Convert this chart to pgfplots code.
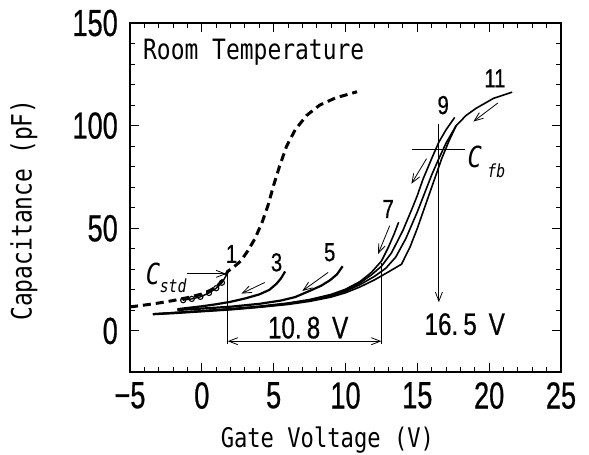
\documentclass[border=0pt]{standalone}
\usepackage{fontspec}
\setmainfont{DejaVu Sans Mono}[FakeStretch=0.82]
\newfontfamily\numfont{Liberation Sans}[FakeStretch=0.72, FakeBold=0.6]
\newfontfamily\lblfont{Liberation Sans}[FakeStretch=0.78, FakeBold=0.6]
\usepackage{pgfplots}
\pgfplotsset{compat=1.18}
\usetikzlibrary{arrows.meta}

\tikzset{
  ann/.style={black, line width=0.8pt},
  annarrow/.style={ann, -{Straight Barb[length=9pt,width=7pt]}},
  lbl/.style={font=\lblfont\fontsize{26}{26}\selectfont, inner sep=0pt},
}

\begin{document}
\begin{tikzpicture}
\useasboundingbox (-130pt,-83pt) rectangle (459pt,372pt);
\begin{axis}[
  scale only axis, width=431pt, height=349pt,
  xmin=-5, xmax=25, ymin=-20, ymax=150,
  xtick={-5,0,5,10,15,20,25},
  xticklabels={−5,0,5,10,15,20,25},
  ytick={0,50,100,150},
  yticklabels={0,50,100,150},
  minor x tick num=4, minor y tick num=4,
  tick align=inside,
  major tick length=9pt, minor tick length=5pt,
  axis line style={line width=2pt},
  every tick/.style={black, line width=1pt},
  ticklabel style={font=\numfont\fontsize{37.7}{38}\selectfont, inner sep=0pt},
  xticklabel style={yshift=-10pt},
  yticklabel style={xshift=-12pt},
  xlabel={Gate Voltage (V)},
  ylabel={Capacitance (pF)},
  xlabel style={font=\fontsize{27}{27}\selectfont, at={(rel axis cs:0.458,-0.195)}, anchor=center},
  ylabel style={font=\fontsize{28}{28}\selectfont, at={(rel axis cs:-0.246,0.464)}, anchor=center},
  clip=false,
]
% C_std (dashed)
\addplot[black, line width=3pt, dash pattern=on 8pt off 5pt] coordinates {
(-5,11.7) (-4,12.6) (-3,13.6) (-2,14.8) (-1,16.2) (0,18) (0.6,19.8) (1.1,22)
(1.5,25) (1.8,29) (2.2,31) (2.7,34) (3.2,39) (3.7,45) (4.2,53) (4.6,61)
(5.0,71) (5.4,80) (5.9,90) (6.5,98) (7.3,105) (8.2,110) (9.3,113.5) (10.8,116.5)};

% curve 1 (open circles on C_std)
\addplot[black, line width=1.4pt, mark=o, mark size=2.6pt, mark options={solid, line width=1.1pt}, mark indices={1,2,3,4,5,6}] coordinates {
(-1.3,15) (-0.7,15.6) (-0.1,16.6) (0.5,18.5) (1.0,20.8) (1.4,23.5) (1.7,27) (1.8,29)};

% curve 3
\addplot[black, line width=2.2pt] coordinates {
(-1.7,10.6) (-1,11.2) (0,12) (1,13) (2,14.2) (3,15.8) (4,17.8) (4.7,20)
(5.2,23) (5.5,25.5) (5.8,29)};

% curve 5
\addplot[black, line width=2.2pt] coordinates {
(-1.7,10.2) (0,10.9) (2,11.8) (4,13.2) (5.5,14.8) (6.5,16.5) (7.5,19.5)
(8.3,22) (8.9,24.6) (9.4,27.5) (9.8,31.5)};

% curve 7
\addplot[black, line width=1.6pt] coordinates {
(-3.4,8.3) (-2,8.9) (0,9.8) (2,10.8) (4,12) (6,13.6) (7.5,15.3) (9,17.8)
(10,20.3) (11,24) (11.8,28.5) (12.5,34) (13.0,41) (13.4,47.5) (13.7,53)};

% curve 9
\addplot[black, line width=1.6pt] coordinates {
(-3.4,8.3) (-2,8.9) (0,9.8) (2,10.7) (4,11.9) (6,13.4) (7.5,15) (9,17.4)
(10,19.8) (11,23.3) (11.8,27.3) (12.5,31.5) (13.2,38) (14,49) (14.6,59)
(15.0,66) (15.4,74) (16,84) (16.5,92) (17.0,98) (17.6,104)};

% curve 11
\addplot[black, line width=1.6pt] coordinates {
(-3.4,8.1) (-2,8.7) (0,9.6) (2,10.5) (4,11.7) (6,13.2) (7.5,14.8) (9,17)
(10,19.3) (11,22.5) (12,26.5) (12.8,30.5) (13.5,36) (14.2,45) (15,58)
(15.5,67) (16,76) (16.5,84) (17,91.5) (17.7,100) (18.4,105) (19.1,108.5)
(20.3,113.3) (21.6,116.3)};

% outer branch
\addplot[black, line width=1.6pt] coordinates {
(-3.4,8.0) (-2,8.5) (0,9.4) (2,10.3) (4,11.5) (6,12.9) (7.5,14.4) (9,16.5)
(10,18.6) (11,21.4) (12,24.8) (13,28.8) (13.9,32.5) (14.5,41) (15,50)
(15.5,60) (16.2,74) (16.7,84) (17.2,92.5) (17.7,100)};

% sweep arrows
\draw[annarrow] (axis cs:-1.0,27.8) -- (axis cs:1.7,27.8);
\draw[annarrow] (axis cs:4.38,23.6) -- (axis cs:2.76,18.2);
\draw[annarrow] (axis cs:8.79,28.5) -- (axis cs:7.0,19.5);
\draw[annarrow] (axis cs:13.08,51.3) -- (axis cs:12.27,37.5);
\draw[annarrow] (axis cs:15.64,83.9) -- (axis cs:14.59,71.7);
\draw[annarrow] (axis cs:20.6,111) -- (axis cs:18.9,102);

% 10.8 V shift
\draw[ann] (axis cs:1.8,29) -- (axis cs:1.8,-6.5);
\draw[ann] (axis cs:12.5,33) -- (axis cs:12.5,-6.5);
\draw[ann, {Straight Barb[length=9pt,width=7pt]}-{Straight Barb[length=9pt,width=7pt]}] (axis cs:1.8,-5) -- (axis cs:12.5,-5);
\node[font=\lblfont\fontsize{31}{31}\selectfont] at (axis cs:7.4,1.6) {10.\,8~\,V};

% C_fb and 16.5 V
\draw[ann] (axis cs:14.6,88.4) -- (axis cs:18.3,88.4);
\draw[annarrow] (axis cs:16.5,101) -- (axis cs:16.5,14);
\node[font=\lblfont\fontsize{31}{31}\selectfont] at (axis cs:18.3,3.3) {16.\,5~\,V};

% labels
\node[lbl] at (axis cs:2.07,37.5) {1};
\node[lbl] at (axis cs:5.2,33.4) {3};
\node[lbl] at (axis cs:8.9,38.3) {5};
\node[lbl] at (axis cs:12.97,59.4) {7};
\node[lbl] at (axis cs:16.8,110) {9};
\node[lbl] at (axis cs:20.4,123) {11};

\node[font=\itshape\fontsize{29}{29}\selectfont, inner sep=0pt] at (axis cs:-3.4,27.7) {C};
\node[font=\itshape\fontsize{18}{18}\selectfont, inner sep=0pt] at (axis cs:-2.0,22) {std};
\node[font=\itshape\fontsize{29}{29}\selectfont, inner sep=0pt] at (axis cs:19.0,84.7) {C};
\node[font=\itshape\fontsize{18}{18}\selectfont, inner sep=0pt] at (axis cs:20.5,78) {fb};

\node[font=\fontsize{28}{28}\selectfont, anchor=west, inner sep=0pt] at (axis cs:-4.1,135.8) {Room Temperature};
\end{axis}
\end{tikzpicture}
\end{document}
